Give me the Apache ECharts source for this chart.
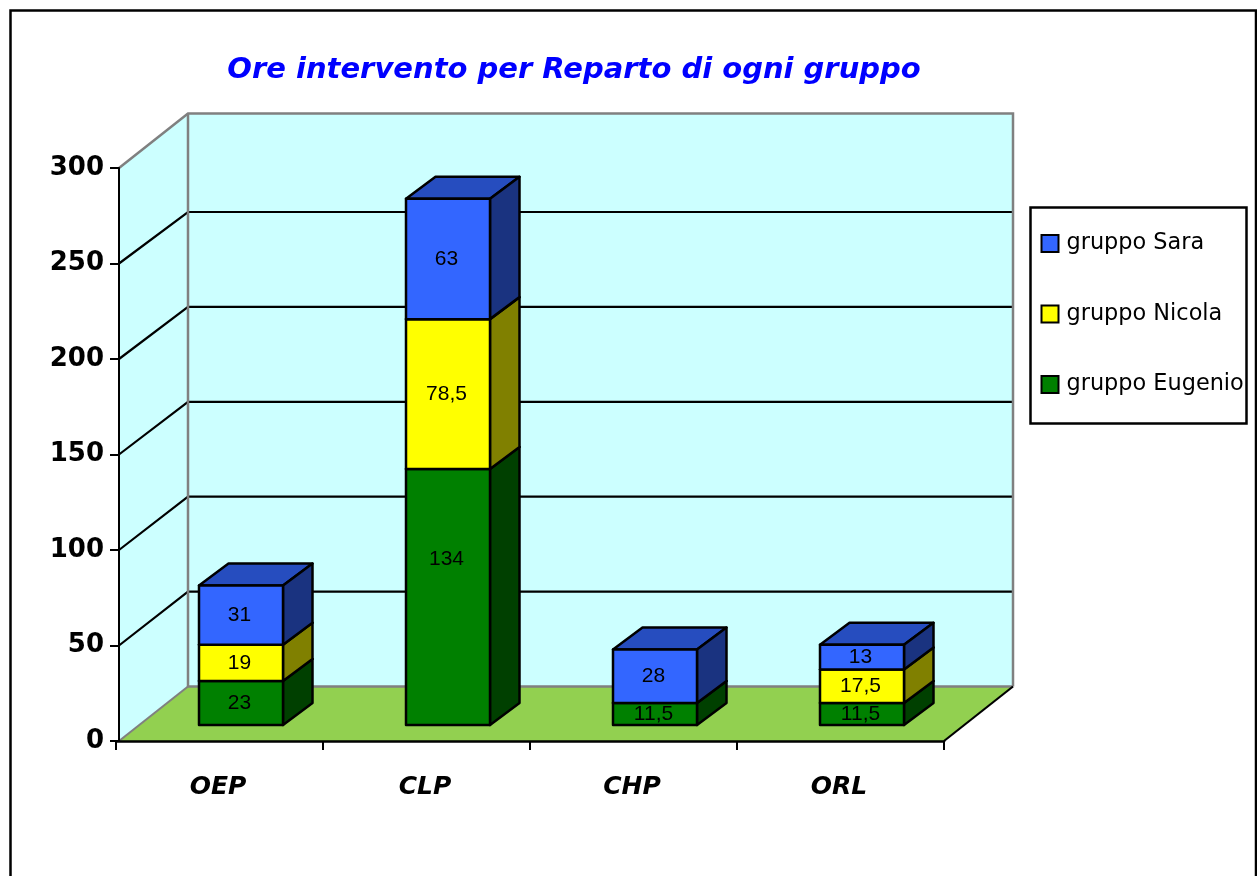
<!DOCTYPE html>
<html>
<head>
<meta charset="utf-8">
<style>html,body{margin:0;padding:0;background:#fff}#c{width:1257px;height:876px}</style>
<script src="https://cdn.jsdelivr.net/npm/echarts@6/dist/echarts.min.js"></script>
</head>
<body>
<div id="c"></div>
<script>
const categories = ['OEP', 'CLP', 'CHP', 'ORL'];
const eugenio = [23, 134, 11.5, 11.5];
const nicola = [19, 78.5, null, 17.5];
const sara = [31, 63, 28, 13];
const yTicks = [0, 50, 100, 150, 200, 250, 300];
const titleText = 'Ore intervento per Reparto di ogni gruppo';

const FONT = '"DejaVu Sans"';
const DEPTH = [69, -54.5];
const BAR_OFF = [21.5, -16];
const BAR_DEPTH = [29.5, -22];
const BAR_W = 84;
const WALL_INSET = 3;
const GRAY = '#808080';
const LABEL_NUDGE = { 'gruppo Eugenio|1': -38 };

function stackData(values, lowers) {
  return values.map((v, i) => {
    if (v == null) return null;
    let base = 0;
    lowers.forEach(l => { base += l[i] || 0; });
    return [i, v, base];
  }).filter(Boolean);
}

function poly(points, fill, stroke, lw) {
  return {
    type: 'polygon',
    shape: { points },
    style: { fill, stroke: stroke || 'none', lineWidth: lw || 0, lineJoin: 'round' }
  };
}
function line(points, stroke, lw) {
  return {
    type: 'polyline',
    shape: { points },
    style: { fill: 'none', stroke, lineWidth: lw }
  };
}

function renderWalls(params, api) {
  const band = api.size([1, 0])[0];
  const xa = api.coord([0, 0])[0] - band / 2;
  const x0 = xa + WALL_INSET;
  const x1 = xa + band * categories.length;
  const yB = api.coord([0, yTicks[0]])[1];
  const yT = api.coord([0, yTicks[yTicks.length - 1]])[1];
  const dx = DEPTH[0], dy = DEPTH[1];
  const kids = [
    poly([[x0 + dx, yT + dy], [x1 + dx, yT + dy], [x1 + dx, yB + dy], [x0 + dx, yB + dy]], '#CCFFFF'),
    poly([[x0, yB], [x0, yT], [x0 + dx, yT + dy], [x0 + dx, yB + dy]], '#CCFFFF'),
    poly([[x0, yB], [x1, yB], [x1 + dx, yB + dy], [x0 + dx, yB + dy]], '#92D050')
  ];
  yTicks.slice(1, -1).forEach(t => {
    const y = api.coord([0, t])[1];
    const by = y + dy + 3 * t / 250;
    kids.push(line([[x0, y], [x0 + dx, by], [x1 + dx, by]], '#000', 2.2));
  });
  kids.push(line([[x0, yT], [x0 + dx, yT + dy], [x1 + dx, yT + dy], [x1 + dx, yB + dy]], GRAY, 2.5));
  kids.push(line([[x0 + dx, yT + dy], [x0 + dx, yB + dy], [x1 + dx, yB + dy]], GRAY, 2.5));
  kids.push(line([[x0, yB], [x0 + dx, yB + dy]], GRAY, 2));
  kids.push(line([[x1, yB], [x1 + dx, yB + dy]], '#000', 2.2));
  return { type: 'group', children: kids };
}

function boxRenderer(name, front, side, top) {
  return function (params, api) {
    const i = api.value(0), v = api.value(1), base = api.value(2);
    const c0 = api.coord([i, base]);
    const c1 = api.coord([i, base + v]);
    const xl = c0[0] + BAR_OFF[0] - BAR_W / 2, xr = xl + BAR_W;
    const yb = c0[1] + BAR_OFF[1], yt = c1[1] + BAR_OFF[1];
    const bx = BAR_DEPTH[0], by = BAR_DEPTH[1];
    const nudge = LABEL_NUDGE[name + '|' + i] || 0;
    return {
      type: 'group',
      children: [
        poly([[xl, yt], [xr, yt], [xr + bx, yt + by], [xl + bx, yt + by]], top, '#000', 2.5),
        poly([[xr, yb], [xr, yt], [xr + bx, yt + by], [xr + bx, yb + by]], side, '#000', 2.5),
        poly([[xl, yb], [xr, yb], [xr, yt], [xl, yt]], front, '#000', 2.5),
        {
          type: 'text',
          style: {
            text: String(v).replace('.', ','),
            x: (xl + xr) / 2 - 1.5,
            y: (yb + yt) / 2 + nudge,
            fill: '#000',
            font: '21px "Liberation Sans"',
            align: 'center',
            verticalAlign: 'middle'
          }
        }
      ]
    };
  };
}

function boxSeries(name, values, lowers, front, side, top) {
  return {
    type: 'custom',
    name,
    itemStyle: { color: front },
    encode: { x: 0, y: 2 },
    data: stackData(values, lowers),
    renderItem: boxRenderer(name, front, side, top)
  };
}

const chart = echarts.init(document.getElementById('c'), null, { renderer: 'canvas' });
chart.setOption({
  animation: false,
  backgroundColor: '#fff',
  title: {
    text: titleText,
    left: 569,
    top: 51,
    textAlign: 'center',
    textStyle: { color: '#0000FF', fontFamily: FONT, fontStyle: 'italic', fontWeight: 'bold', fontSize: 29 }
  },
  grid: { left: 116, top: 168, width: 828, height: 573, containLabel: false },
  xAxis: {
    type: 'category',
    data: categories,
    axisLine: { show: true, lineStyle: { color: '#000', width: 2.5 } },
    axisTick: { show: true, length: 9, lineStyle: { color: '#000', width: 2 } },
    axisLabel: { margin: 34, padding: [0, 3, 0, 0], color: '#000', fontFamily: FONT, fontStyle: 'italic', fontWeight: 'bold', fontSize: 25 },
    z: 5
  },
  yAxis: {
    type: 'value',
    min: 0,
    max: 300,
    interval: 50,
    offset: -3,
    axisLine: { show: true, lineStyle: { color: '#000', width: 2 } },
    axisTick: { show: true, length: 9, lineStyle: { color: '#000', width: 2 } },
    axisLabel: { margin: 15, color: '#000', fontFamily: FONT, fontWeight: 'bold', fontSize: 26 },
    splitLine: { show: false },
    z: 5
  },
  legend: {
    show: true,
    orient: 'vertical',
    left: 1040.5,
    top: 230,
    itemWidth: 17,
    itemHeight: 17,
    itemGap: 43.5,
    icon: 'rect',
    padding: 0,
    selectedMode: false,
    data: ['gruppo Sara', 'gruppo Nicola', 'gruppo Eugenio'],
    itemStyle: { borderColor: '#000', borderWidth: 2 },
    textStyle: { color: '#000', fontFamily: FONT, fontSize: 22.4, padding: [3, 0, 0, 3], lineHeight: 24 }
  },
  graphic: [
    {
      type: 'polyline',
      silent: true,
      z: 0,
      shape: { points: [[10.5, 876], [10.5, 10.5], [1256, 10.5], [1256, 876]] },
      style: { fill: 'none', stroke: '#000', lineWidth: 2.5 }
    },
    {
      type: 'rect',
      silent: true,
      z: 0,
      shape: { x: 1030.5, y: 207.5, width: 216, height: 216 },
      style: { fill: '#fff', stroke: '#000', lineWidth: 2.5 }
    }
  ],
  series: [
    {
      type: 'custom',
      name: 'walls',
      silent: true,
      encode: { x: 0, y: 1 },
      data: [[0, 0]],
      renderItem: renderWalls
    },
    boxSeries('gruppo Eugenio', eugenio, [], '#008000', '#004000', '#006000'),
    boxSeries('gruppo Nicola', nicola, [eugenio], '#FFFF00', '#808000', '#BFBF00'),
    boxSeries('gruppo Sara', sara, [eugenio, nicola], '#3366FF', '#1A3380', '#264DBF')
  ]
});
</script>
</body>
</html>
